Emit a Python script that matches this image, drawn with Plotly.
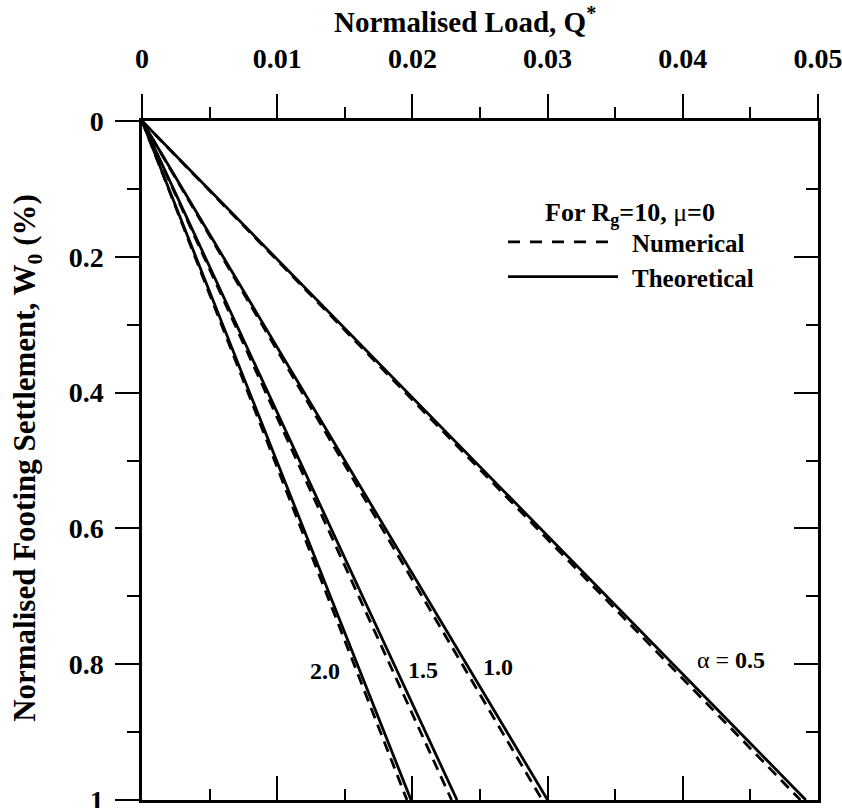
import plotly.graph_objects as go

# Data
settlement = [0.0, 1.0]  # W0 (%)
alpha_labels = ["0.5", "1.0", "1.5", "2.0"]
q_theoretical = [0.0491, 0.0300, 0.0233, 0.0199]  # Q* at W0 = 1
q_numerical = [0.0487, 0.0296, 0.0229, 0.0196]

label_x = [0.0436, 0.02633, 0.0208, 0.01354]
label_y = [0.794, 0.804, 0.808, 0.810]
label_text = ["α = <b>0.5</b>", "<b>1.0</b>", "<b>1.5</b>", "<b>2.0</b>"]

FONT = "Liberation Serif"
fig = go.Figure()

for qt, qn in zip(q_theoretical, q_numerical):
    fig.add_trace(go.Scatter(x=[0, qn], y=settlement, mode="lines",
                             line=dict(color="black", width=2.8, dash="11px,7px"),
                             showlegend=False, hoverinfo="skip"))
    fig.add_trace(go.Scatter(x=[0, qt], y=settlement, mode="lines",
                             line=dict(color="black", width=2.8),
                             showlegend=False, hoverinfo="skip"))

# mirror axes carrier
fig.add_trace(go.Scatter(x=[None], y=[None], xaxis="x2", yaxis="y2", mode="lines",
                         showlegend=False, hoverinfo="skip"))

tickfont = dict(family=FONT, size=28, color="black", weight="bold")

fig.update_layout(
    width=842, height=808,
    margin=dict(l=142, r=24, t=121, b=8),
    plot_bgcolor="white", paper_bgcolor="white",
    font=dict(family=FONT, color="black"),
    xaxis=dict(side="top", range=[0, 0.05], dtick=0.01, tick0=0, automargin=False,
               ticks="outside", ticklen=24, tickwidth=2, tickcolor="black",
               minor=dict(ticks="outside", ticklen=11, dtick=0.005, tick0=0, tickwidth=2, tickcolor="black"),
               showline=True, linewidth=2.5, linecolor="black",
               showgrid=False, zeroline=False, tickfont=tickfont,
               ticklabelstandoff=15, ticklabeloverflow="allow"),
    xaxis2=dict(overlaying="x", side="bottom", anchor="y", range=[0, 0.05], dtick=0.01, tick0=0,
                automargin=False,
                ticks="inside", ticklen=24, tickwidth=2, tickcolor="black",
                minor=dict(ticks="inside", ticklen=11, dtick=0.005, tick0=0, tickwidth=2, tickcolor="black"),
                showline=True, linewidth=2.5, linecolor="black",
                showgrid=False, zeroline=False, showticklabels=False),
    yaxis=dict(range=[1, 0], dtick=0.2, tick0=0, automargin=False,
               ticks="outside", ticklen=24, tickwidth=2, tickcolor="black",
               minor=dict(ticks="outside", ticklen=12, dtick=0.1, tick0=0, tickwidth=2, tickcolor="black"),
               showline=True, linewidth=2.5, linecolor="black",
               showgrid=False, zeroline=False, tickfont=tickfont,
               ticklabelstandoff=6, ticklabeloverflow="allow"),
    yaxis2=dict(overlaying="y", side="right", anchor="x", range=[1, 0], dtick=0.2, tick0=0,
                automargin=False,
                ticks="inside", ticklen=24, tickwidth=2, tickcolor="black",
                minor=dict(ticks="inside", ticklen=12, dtick=0.1, tick0=0, tickwidth=2, tickcolor="black"),
                showline=True, linewidth=2.5, linecolor="black",
                showgrid=False, zeroline=False, showticklabels=False),
)

# Axis titles
fig.add_annotation(x=0.478, y=1.149, xref="paper", yref="paper",
                   text="<b>Normalised Load, Q<sup>*</sup></b>",
                   showarrow=False, xanchor="center", yanchor="middle",
                   font=dict(family=FONT, size=29, color="black"))
fig.add_annotation(x=-0.170, y=0.504, xref="paper", yref="paper", textangle=-90,
                   text="<b>Normalised Footing Settlement, W<sub>0</sub> (%)</b>",
                   showarrow=False, xanchor="center", yanchor="middle",
                   font=dict(family=FONT, size=31, color="black"))

for x, y, t in zip(label_x, label_y, label_text):
    fig.add_annotation(x=x, y=y, text=t, showarrow=False, xanchor="center", yanchor="middle",
                       font=dict(family=FONT, size=24, color="black"))

# Legend (drawn manually)
fig.add_annotation(x=0.722, y=0.863, xref="paper", yref="paper",
                   text="<b>For R<sub>g</sub>=10,</b> μ<b>=0</b>",
                   showarrow=False, xanchor="center", yanchor="middle",
                   font=dict(family=FONT, size=26, color="black"))
fig.add_shape(type="line", xref="paper", yref="paper", x0=0.5414, x1=0.6893, y0=0.822, y1=0.822,
              line=dict(color="black", width=2.8, dash="12px,10px"))
fig.add_shape(type="line", xref="paper", yref="paper", x0=0.5414, x1=0.7041, y0=0.7707, y1=0.7707,
              line=dict(color="black", width=2.8))
fig.add_annotation(x=0.722, y=0.8194, xref="paper", yref="paper", text="<b>Numerical</b>",
                   xanchor="left", yanchor="middle",
                   showarrow=False, font=dict(family=FONT, size=25, color="black"))
fig.add_annotation(x=0.722, y=0.768, xref="paper", yref="paper", text="<b>Theoretical</b>",
                   xanchor="left", yanchor="middle",
                   showarrow=False, font=dict(family=FONT, size=25, color="black"))

fig.write_html("out.html")
